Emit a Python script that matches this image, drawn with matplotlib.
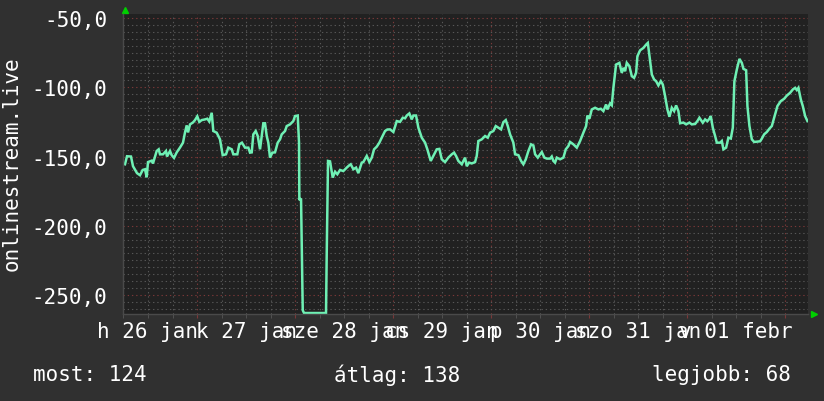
import matplotlib
matplotlib.use("Agg")
import matplotlib.pyplot as plt
import matplotlib.transforms as mtransforms
from matplotlib.ticker import MultipleLocator, FuncFormatter

# hours since Monday 26 jan 00:00, ping shown as negative values
hours = [6.37, 6.86, 7.84, 8.33, 9.31, 10.04, 10.70, 11.27, 11.68, 12.0, 12.91, 13.22,
         14.13, 14.62, 14.94, 15.67, 16.41, 16.65, 17.39, 17.80, 18.37, 19.03, 19.84,
         20.57, 21.06, 21.48, 21.80, 22.29, 23.02, 23.51, 24.07, 24.56, 25.15, 25.96,
         26.52, 27.01, 27.60, 27.99, 28.82, 29.63, 30.29, 31.10, 31.67, 32.50, 32.89,
         33.87, 34.36, 35.0, 35.76, 36.57, 36.98, 37.40, 37.79, 38.38, 38.87, 39.43,
         39.85, 40.24, 40.65, 41.07, 41.46, 41.88, 42.44, 43.10, 43.76, 44.33, 44.74,
         45.55, 45.97, 46.78, 47.58, 48.0, 48.66, 48.98, 49.06, 49.47, 49.89, 50.20,
         55.59, 55.76, 56.08, 56.57, 57.23, 57.80, 58.36, 59.02, 59.83, 60.66, 61.30,
         61.64, 62.28, 62.94, 63.50, 64.34, 64.73, 65.56, 66.20, 66.79, 67.35, 68.01,
         68.65, 69.23, 70.04, 70.6, 71.27, 72.08, 72.91, 73.71, 74.38, 74.94, 75.36,
         75.99, 76.58, 76.98, 77.63, 78.20, 79.03, 79.84, 80.40, 81.23, 81.87, 82.70,
         83.34, 83.93, 84.73, 85.54, 86.38, 86.94, 87.43, 87.99, 88.83, 89.63, 90.05,
         90.61, 91.27, 92.08, 92.49, 92.89, 93.72, 94.53, 95.19, 95.76, 96.56, 97.15,
         97.79, 98.45, 99.01, 99.60, 100.09, 100.65, 101.46, 101.88, 102.69, 103.35,
         103.91, 104.50, 105.14, 105.80, 106.36, 106.78, 107.44, 108.00, 108.42, 109.05,
         109.64, 110.45, 110.86, 111.26, 111.67, 112.09, 112.90, 113.71, 114.29, 114.93,
         115.35, 116.16, 116.99, 117.80, 118.60, 119.27, 119.59, 120.08, 120.66, 121.47,
         122.28, 122.87, 123.50, 124.16, 124.48, 125.14, 125.56, 125.95, 126.61, 127.42,
         128.01, 128.40, 128.82, 129.23, 129.87, 130.46, 131.02, 131.51, 131.83, 132.49,
         133.30, 133.96, 134.38, 134.94, 135.36, 135.92, 136.41, 136.97, 137.56, 138.05,
         138.61, 139.18, 139.67, 140.25, 140.82, 141.31, 141.87, 142.29, 143.09, 143.76,
         144.56, 145.15, 145.96, 146.52, 147.01, 147.84, 148.41, 148.97, 149.46, 149.80,
         150.29, 150.86, 151.27, 152.08, 152.50, 152.89, 153.55, 154.11, 154.70, 155.19,
         155.58, 156.17, 156.81, 157.40, 157.79, 158.45, 158.77, 159.26, 159.85, 160.41,
         161.07, 161.88, 162.29, 162.86, 163.52, 164.15, 164.74, 165.55, 166.11, 166.94,
         167.76, 168.42, 169.22, 169.88, 170.45, 170.86, 171.25, 171.84, 172.33, 172.90,
         173.46]
ping = [-155.6, -149.8, -150, -157, -162, -163.5, -159.7, -159.2, -165, -154, -153, -155,
        -146, -144.8, -148.4, -148.4, -146, -150, -146, -149, -151, -147, -143.5,
        -140, -132.6, -127.5, -132.6, -126.8, -125.4, -123.7, -121, -125, -123.7, -123.2,
        -122.7, -124.7, -118.4, -131.6, -132.8, -137.6, -149, -148.4, -143.6, -144.8, -148.4,
        -148.4, -141.2, -140, -143.6, -143.6, -147.2, -147, -134, -131.6, -135.2, -144.8,
        -135.2, -126, -126, -135.2, -140, -150.8, -147.2, -147, -140, -137.6, -134,
        -131.6, -128, -126.8, -124.4, -120.8, -120.4, -140, -181.5, -180.3, -261, -263,
        -263, -220.4, -153.2, -153.5, -165.2, -161, -162.8, -159.7, -160.5, -158, -156.3,
        -155.6, -159.2, -158, -162, -154.4, -154, -149.6, -154, -150.8, -144.8, -142.9,
        -140, -136.4, -131.6, -130.5, -130.4, -132.3, -124.4, -125, -122, -122.4, -120.4,
        -118.9, -123.2, -120.4, -120.4, -129.2, -136.4, -140, -144.8, -153.2, -149.6, -144.8,
        -144.5, -152, -154, -150.8, -148.4, -147.2, -149.6, -153.2, -155.6, -150.8, -157,
        -154.4, -155, -154, -149.6, -138.8, -137.6, -135.2, -136.4, -132.8, -131.6, -128,
        -129.2, -130.4, -125.2, -123.7, -128, -134, -140, -148.4, -149, -153.2,
        -155.6, -152, -146, -141.2, -142, -148.4, -150.8, -148.4, -146.8, -150.8,
        -151.5, -151.5, -150, -153.2, -154.4, -150.8, -152, -150.8, -144.8, -142.4,
        -139.5, -141.2, -143.6, -138.8, -132.8, -128, -120.4, -122.7, -116, -114.8,
        -116, -115.5, -117.2, -112.4, -116, -111.7, -113, -100.4, -83.6, -82.4,
        -89.6, -86, -88.4, -82.4, -84.8, -92, -93.2, -89.6, -77.6, -73.3,
        -71.6, -69.2, -68, -81.2, -90.8, -94.4, -95.6, -98.7, -95.6, -98,
        -106.4, -116, -121.3, -114.8, -117.2, -113.1, -117.2, -126, -125.5, -126.8,
        -125.5, -126.8, -126.5, -124.4, -122, -125.6, -123.2, -124.5, -122.7, -120.8,
        -129.2, -135.2, -140, -140, -138.8, -144.8, -143.6, -136.4, -137, -129.2,
        -95.6, -87.2, -79.5, -82.4, -86.7, -87.7, -113.6, -128, -137.6, -139.5,
        -139.3, -139, -137.1, -134, -132.3, -129.9, -128, -119.6, -113.6, -110,
        -108.3, -106, -104, -101.6, -100.4, -102, -100.4, -108.8, -113.6, -120.8,
        -124.4]

day_labels = ["h 26 jan", "k 27 jan", "sze 28 jan", "cs 29 jan", "p 30 jan", "szo 31 jan", "v 01 febr"]
day_centers = [12, 36, 60, 84, 108, 132, 156]
stat_names = ["most", "átlag", "legjobb"]
stat_values = [124, 138, 68]

W, H = 824, 402
bg = "#303030"
plot_bg = "#212121"
fg = "#ffffff"
line_col = "#6ff0b4"
minor_col = "#575757"
major_col = "#7a3838"
mono = "DejaVu Sans Mono"

fig = plt.figure(figsize=(W / 100, H / 100), dpi=100, facecolor=bg)
ax = fig.add_axes([123 / W, (H - 315) / H, 685 / W, 300 / H], facecolor=plot_bg)

ax.set_xlim(5.88, 173.6)
ax.set_ylim(-263.7, -47.1)

ax.xaxis.set_major_locator(MultipleLocator(24))
ax.xaxis.set_minor_locator(MultipleLocator(6))
ax.yaxis.set_major_locator(MultipleLocator(50))
ax.yaxis.set_minor_locator(MultipleLocator(5))
ax.yaxis.set_major_formatter(FuncFormatter(lambda v, p: f"{v:.1f}".replace(".", ",")))
ax.xaxis.set_major_formatter(FuncFormatter(lambda v, p: ""))

ax.grid(which="minor", color=minor_col, linestyle=(0, (1.2, 2.6)), linewidth=0.8)
ax.grid(which="major", color=major_col, linestyle=(0, (1.2, 2.6)), linewidth=0.8)
ax.set_axisbelow(True)

for s in ["top", "right"]:
    ax.spines[s].set_visible(False)
for s in ["left", "bottom"]:
    ax.spines[s].set_color("#4a4a4a")
    ax.spines[s].set_linewidth(1.0)

ax.tick_params(axis="y", which="both", length=0, pad=11.5, labelsize=15, labelcolor=fg)
ax.tick_params(axis="x", which="major", length=3, color=major_col, direction="out")
ax.tick_params(axis="x", which="minor", length=3, color=minor_col, direction="out")
for lbl in ax.get_yticklabels():
    lbl.set_family(mono)

ax.plot(hours, ping, color=line_col, linewidth=1.8, solid_joinstyle="miter")

# day labels centred on each day (they overlap like in the original)
trans = mtransforms.blended_transform_factory(ax.transData, ax.transAxes)
for lab, c in zip(day_labels, day_centers):
    ax.text(c, -0.057, lab, transform=trans, ha="center", va="center",
            fontsize=15, family=mono, color=fg, clip_on=False)

# little green arrows at the axis ends
ax.plot([0.003], [1.015], marker="^", color="#00d000", markersize=4.5,
        transform=ax.transAxes, clip_on=False)
ax.plot([1.009], [0.0], marker=">", color="#00d000", markersize=4.5,
        transform=ax.transAxes, clip_on=False)

fig.text(12 / W, 1 - 164 / H, "onlinestream.live", rotation=90, ha="center", va="center",
         fontsize=15, family=mono, color=fg)

stat_x = [33, 334, 652]
for name, val, x in zip(stat_names, stat_values, stat_x):
    fig.text(x / W, 1 - 375 / H, f"{name}: {val}", ha="left", va="center",
             fontsize=15, family=mono, color=fg)

fig.savefig("out.png", dpi=100, facecolor=bg)
